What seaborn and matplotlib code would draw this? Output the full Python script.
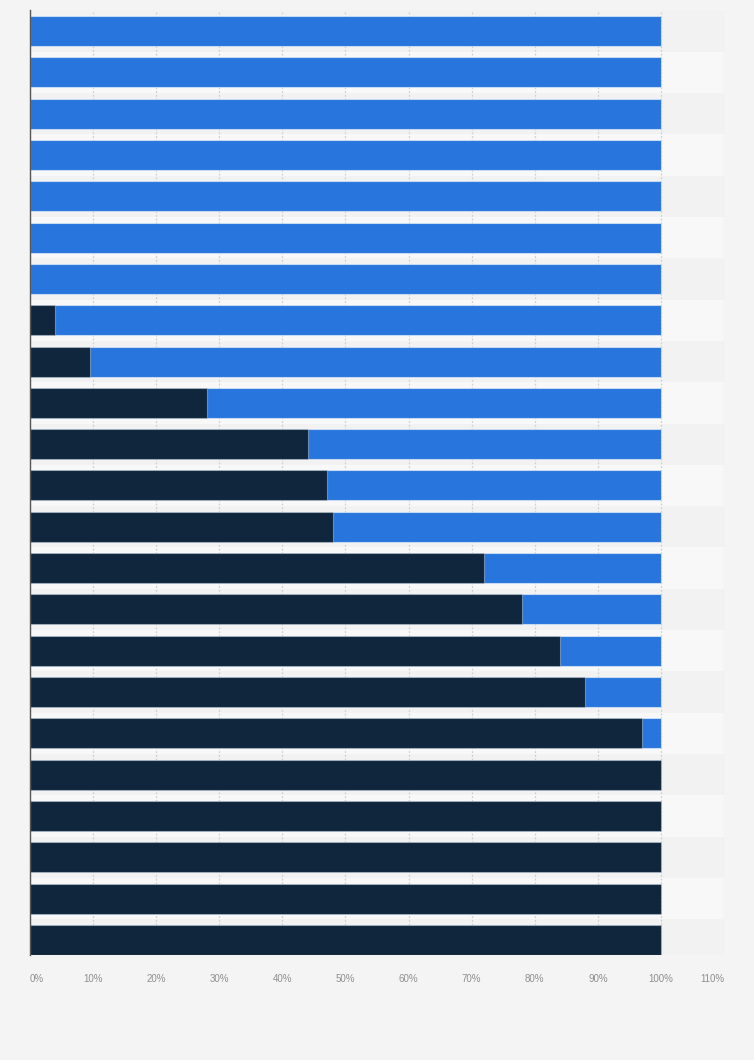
import pandas as pd
import matplotlib.pyplot as plt
import seaborn as sns

# share of each row, dark part (the blue part fills up to 100%)
rows = [f"row {i + 1}" for i in range(23)]
dark_share = [0, 0, 0, 0, 0, 0, 0, 4, 9.5, 28, 44, 47, 48, 72, 78, 84, 88, 97,
              100, 100, 100, 100, 100]
total_share = [100] * 23
x_ticks = [0, 10, 20, 30, 40, 50, 60, 70, 80, 90, 100, 110]

df = pd.DataFrame({"row": rows, "dark": dark_share, "total": total_share})

sns.set_style("white")
plt.rcParams["font.family"] = ["Liberation Sans", "DejaVu Sans"]

fig = plt.figure(figsize=(7.54, 10.6), dpi=100, facecolor="#f4f4f4")
ax = fig.add_axes([30 / 754, 1 - 955 / 1060, 694 / 754, 945 / 1060])
ax.set_facecolor("#f4f4f4")

# alternating row stripes
for i in range(len(rows)):
    ax.axhspan(i - 0.5, i + 0.5, color="#f2f2f2" if i % 2 == 0 else "#f8f8f8",
               lw=0, zorder=0)

# dotted grid
for t in x_ticks:
    ax.axvline(t, color="#cfcfcf", lw=0.9, ls=(0, (1.5, 1.5)), zorder=1)

sns.barplot(data=df, y="row", x="total", order=rows, orient="h", color="#2876dd",
            width=0.726, edgecolor=(1, 1, 1, 0.5), linewidth=0.8, ax=ax,
            saturation=1, zorder=2)
sns.barplot(data=df, y="row", x="dark", order=rows, orient="h", color="#10263c",
            width=0.726, edgecolor=(1, 1, 1, 0.35), linewidth=0.8, ax=ax,
            saturation=1, zorder=3)

ax.set_xlim(0, 110)
ax.set_ylim(22.363, -0.508)
ax.set_xticks(x_ticks)
labels = ax.set_xticklabels([f"{t}%" for t in x_ticks], fontsize=7, color="#8f8f8f")
labels[0].set_ha("left")
labels[-1].set_ha("right")
ax.tick_params(axis="x", length=5, width=0.6, color="#c8c8c8", pad=9)
ax.set_yticks([])
ax.set_xlabel("")
ax.set_ylabel("")

for s in ["top", "right", "bottom"]:
    ax.spines[s].set_visible(False)
ax.spines["left"].set_color("#555555")
ax.spines["left"].set_linewidth(1.0)
ax.spines["left"].set_zorder(5)

fig.savefig("out.png", dpi=100, facecolor=fig.get_facecolor())
